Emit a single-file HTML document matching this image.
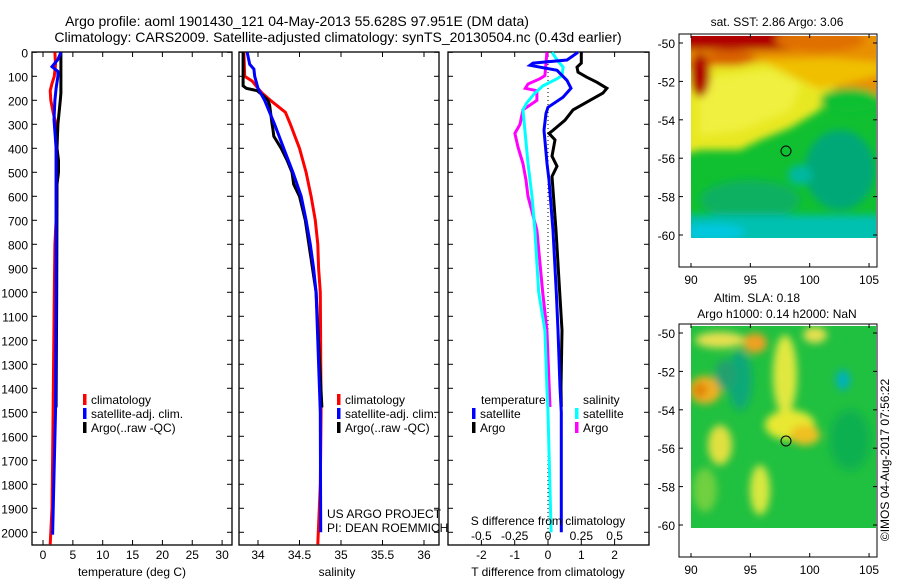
<!DOCTYPE html>
<html><head><meta charset="utf-8">
<style>
html,body{margin:0;padding:0;background:#fff;}
svg{display:block;font-family:"Liberation Sans",sans-serif;}
text{font-size:12px;fill:#000;}
</style></head>
<body>
<svg id="chart" width="900" height="580" viewBox="0 0 900 580" xmlns="http://www.w3.org/2000/svg">
<defs>
<filter id="bl" x="-20%" y="-20%" width="140%" height="140%"><feGaussianBlur stdDeviation="4"/></filter>
<clipPath id="c1"><rect x="691" y="36" width="185" height="202"/></clipPath>
<clipPath id="c2"><rect x="691" y="326" width="185" height="202"/></clipPath>
</defs>
<text x="297" y="26" text-anchor="middle" style="font-size:14px">Argo profile: aoml 1901430_121 04-May-2013 55.628S 97.951E (DM data)</text>
<text x="338" y="42" text-anchor="middle" style="font-size:14px">Climatology: CARS2009. Satellite-adjusted climatology: synTS_20130504.nc (0.43d earlier)</text>
<g id="plots"></g>
<!-- SST map -->
<g>
<text x="777" y="26" text-anchor="middle">sat. SST: 2.86 Argo: 3.06</text>
<rect x="679" y="34" width="198" height="233" fill="none" stroke="#000"/>
<g clip-path="url(#c1)">
<rect x="691" y="36" width="185" height="202" fill="#10c030"/>
<g filter="url(#bl)">
<rect x="680" y="20" width="210" height="75" fill="#e89000"/>
<path d="M680,70 L760,62 L810,68 L835,88 L820,110 L790,128 L760,140 L740,150 L700,150 L680,155 Z" fill="#e8e820"/>
<path d="M700,80 L770,70 L800,85 L790,110 L740,130 L700,135 Z" fill="#f0f040"/>
<path d="M760,60 L830,58 L880,62 L880,75 L820,90 Z" fill="#f0c000"/>
<rect x="680" y="20" width="120" height="30" fill="#b00000"/>
<ellipse cx="700" cy="75" rx="10" ry="22" fill="#b00000"/>
<ellipse cx="730" cy="58" rx="25" ry="8" fill="#d86000"/>
<ellipse cx="820" cy="40" rx="45" ry="12" fill="#e07000"/>
<ellipse cx="840" cy="170" rx="35" ry="40" fill="#00a878"/>
<ellipse cx="850" cy="100" rx="30" ry="12" fill="#10c030"/>
<ellipse cx="750" cy="200" rx="50" ry="20" fill="#10b060"/>
<rect x="680" y="215" width="210" height="30" fill="#00c0b0"/>
<ellipse cx="715" cy="232" rx="30" ry="8" fill="#00c8e0"/>
<ellipse cx="800" cy="175" rx="12" ry="10" fill="#00b8a0"/>
</g>
</g>
<circle cx="786" cy="151" r="5" fill="none" stroke="#000"/>
</g>
<!-- SLA map -->
<g>
<text x="757" y="302" text-anchor="middle">Altim. SLA: 0.18</text>
<text x="777" y="318" text-anchor="middle">Argo h1000: 0.14 h2000: NaN</text>
<rect x="679" y="324" width="198" height="233" fill="none" stroke="#000"/>
<g clip-path="url(#c2)">
<rect x="691" y="326" width="185" height="202" fill="#20c040"/>
<g filter="url(#bl)">
<ellipse cx="785" cy="375" rx="12" ry="40" fill="#e0e840"/>
<ellipse cx="790" cy="425" rx="25" ry="15" fill="#e8e830"/>
<ellipse cx="805" cy="435" rx="15" ry="10" fill="#f0c020"/>
<ellipse cx="755" cy="343" rx="12" ry="10" fill="#f0a020"/>
<ellipse cx="705" cy="390" rx="16" ry="14" fill="#f0b020"/>
<ellipse cx="700" cy="390" rx="7" ry="7" fill="#e08000"/>
<ellipse cx="720" cy="445" rx="12" ry="20" fill="#e0e040"/>
<ellipse cx="760" cy="490" rx="10" ry="25" fill="#d8e840"/>
<ellipse cx="720" cy="340" rx="25" ry="8" fill="#e8e050"/>
<ellipse cx="815" cy="335" rx="12" ry="8" fill="#e8e050"/>
<ellipse cx="740" cy="380" rx="12" ry="30" fill="#10a878"/>
<ellipse cx="843" cy="380" rx="7" ry="10" fill="#00b0c0"/>
<ellipse cx="850" cy="440" rx="20" ry="30" fill="#10b050"/>
<ellipse cx="705" cy="490" rx="12" ry="22" fill="#70d040"/>
<ellipse cx="725" cy="375" rx="10" ry="15" fill="#20a070"/>
</g>
</g>
<circle cx="786" cy="441" r="5" fill="none" stroke="#000"/>
</g>
<g id="maps"></g>
<text transform="translate(889,460) rotate(-90)" text-anchor="middle">©IMOS 04-Aug-2017 07:56:22</text>
</svg>
<script>
const NS='http://www.w3.org/2000/svg';
const depthTicks=[0,100,200,300,400,500,600,700,800,900,1000,1100,1200,1300,1400,1500,1600,1700,1800,1900,2000];
// Temperature panel data
const tClimDepth=[0,50,100,130,160,200,250,300,700,800,1000,1500,1700,1900,2050];
const tClimVal=[2.0,2.1,1.9,1.5,1.2,1.3,1.7,2.2,2.2,2.0,1.9,1.7,1.6,1.5,1.2];
const tSatDepth=[0,30,60,80,100,150,200,280,400,1000,1500,2010];
const tSatVal=[3.0,2.5,1.5,2.5,2.5,2.2,2.0,1.85,2.2,2.2,2.1,1.6];
const tArgoDepth=[0,170,200,250,300,400,450,500,550,600,1000,1480];
const tArgoVal=[3.0,3.0,2.9,2.7,2.5,2.35,2.6,2.6,2.35,2.35,2.3,2.2];
const tTicks=[0,5,10,15,20,25,30];
// Salinity panel data
const sClimDepth=[0,100,120,150,170,200,250,300,400,500,600,700,800,900,1000,1500,1800,2050];
const sClimVal=[33.83,33.84,33.93,34.0,34.05,34.15,34.33,34.39,34.5,34.58,34.64,34.69,34.72,34.73,34.75,34.76,34.75,34.72];
const sSatDepth=[0,50,70,100,150,200,300,400,500,600,700,800,900,1000,1500,2000];
const sSatVal=[33.87,33.9,33.95,33.96,34.0,34.08,34.2,34.31,34.42,34.52,34.58,34.63,34.67,34.7,34.75,34.755];
const sArgoDepth=[0,140,150,160,180,200,220,300,320,350,400,450,500,550,600,700,1000,1480];
const sArgoVal=[33.82,33.82,33.86,33.99,34.06,34.12,34.14,34.17,34.18,34.19,34.28,34.35,34.41,34.43,34.5,34.57,34.7,34.77];
const sTicks=[34,34.5,35,35.5,36];
// Difference panel data
const dTSatDepth=[0,32,45,54,75,117,150,187,229,254,325,463,533,742,1000,1158,1395,1500,2000];
const dTSatVal=[0.9,0.57,-0.45,-0.54,0.27,0.57,0.69,0.45,0,-0.06,-0.12,-0.03,0.03,0.15,0.25,0.3,0.36,0.4,0.4];
const dTArgoDepth=[0,45,62,83,104,125,150,170,200,240,283,325,338,365,433,475,517,742,1000,1158,1395,1478];
const dTArgoVal=[1.0,1.0,0.87,0.9,1.17,1.47,1.77,1.65,1.26,0.75,0.51,0.15,0.03,0.21,0.12,0.27,0.12,0.24,0.35,0.42,0.39,0.4];
const dSSatDepth=[0,32,62,97,110,140,170,210,240,325,463,600,742,1000,1158,1395,1500,2000];
const dSSatVal=[0.03,0.068,0.113,0.105,0.068,-0.038,-0.098,-0.158,-0.188,-0.173,-0.15,-0.12,-0.098,-0.07,-0.023,-0.008,0,0.023];
const dSArgoDepth=[0,45,97,110,132,150,160,200,240,300,338,395,463,533,600,742,1000,1158,1478];
const dSArgoVal=[-0.008,-0.015,-0.023,-0.06,-0.15,-0.17,-0.083,-0.083,-0.188,-0.21,-0.248,-0.225,-0.188,-0.165,-0.15,-0.083,-0.04,-0.008,0.015];
const dTTicks=[-2,-1,0,1,2];
const dSTicks=[-0.5,-0.25,0,0.25,0.5];
const dSTickLabels=['-0.5','-0.25','0','0.25','0.5'];
const lonTicks=[90,95,100,105];
const latTicks=[-50,-52,-54,-56,-58,-60];

const Y0=52.3, YK=0.24;
const yD=d=>Y0+YK*d;
const xT=v=>43+5.97*v;
const xS=v=>258+83*(v-34);
const xDT=v=>548+33.3*v;
const xDS=v=>548+133.3*v;
const xLon=v=>691+11.87*(v-90);
const yLat1=v=>43+19.2*(-50-v);
const yLat2=v=>333+19.2*(-50-v);

const plots=document.getElementById('plots');
function mk(tag,attrs,parent){const e=document.createElementNS(NS,tag);for(const k in attrs)e.setAttribute(k,attrs[k]);(parent||plots).appendChild(e);return e;}
function txt(s,x,y,anchor,parent){const e=mk('text',{x:x,y:y,'text-anchor':anchor||'start'},parent);e.textContent=s;return e;}
function stepLine(depths,vals,xf,color,name,w){
  let d='';
  for(let i=0;i<depths.length;i++){
    const x=xf(vals[i]).toFixed(1), y=yD(depths[i]).toFixed(1);
    d+=(i?'L':'M')+x+','+y;
  }
  const p=mk('path',{d:d,fill:'none',stroke:color,'stroke-width':w||3,'stroke-linejoin':'miter'});
  
  
}
function panel(x0,x1,name){
  const g=mk('rect',{x:x0,y:52,width:x1-x0,height:493,fill:'none',stroke:'#000','stroke-width':1.3});
  
  
  depthTicks.forEach(d=>{
    mk('line',{x1:x0,x2:x0+5,y1:yD(d),y2:yD(d),stroke:'#000'});
    mk('line',{x1:x1-5,x2:x1,y1:yD(d),y2:yD(d),stroke:'#000'});
  });
}
// panel 1
panel(32,232,'temperature-panel');
depthTicks.forEach(d=>{const t=txt(String(d),28,yD(d)+5,'end');
  
  });
tTicks.forEach(v=>{mk('line',{x1:xT(v),x2:xT(v),y1:545,y2:540,stroke:'#000'});mk('line',{x1:xT(v),x2:xT(v),y1:52,y2:57,stroke:'#000'});
  const t=txt(String(v),xT(v),559,'middle');
  
  });
const tt=txt('temperature (deg C)',132,576,'middle');


stepLine(tClimDepth,tClimVal,xT,'#ff0000','temp-climatology-line');
stepLine(tArgoDepth,tArgoVal,xT,'#000000','temp-argo-line');
stepLine(tSatDepth,tSatVal,xT,'#0000ff','temp-satellite-line');
// panel 2
panel(239,439,'salinity-panel');
sTicks.forEach(v=>{mk('line',{x1:xS(v),x2:xS(v),y1:545,y2:540,stroke:'#000'});mk('line',{x1:xS(v),x2:xS(v),y1:52,y2:57,stroke:'#000'});
  const t=txt(String(v),xS(v),559,'middle');
  
  });
const st=txt('salinity',337,576,'middle');


stepLine(sClimDepth,sClimVal,xS,'#ff0000','sal-climatology-line');
stepLine(sArgoDepth,sArgoVal,xS,'#000000','sal-argo-line');
stepLine(sSatDepth,sSatVal,xS,'#0000ff','sal-satellite-line');
// panel 3
panel(448,649,'difference-panel');
dTTicks.forEach(v=>{mk('line',{x1:xDT(v),x2:xDT(v),y1:545,y2:540,stroke:'#000'});mk('line',{x1:xDT(v),x2:xDT(v),y1:52,y2:57,stroke:'#000'});
  const t=txt(String(v),xDT(v),559,'middle');
  
  });
dSTicks.forEach((v,i)=>{const t=txt(dSTickLabels[i],xDS(v),540,'middle');
  
  });
const zl=mk('line',{x1:548,x2:548,y1:52,y2:545,stroke:'#000','stroke-dasharray':'1,3'});


stepLine(dSArgoDepth,dSArgoVal,xDS,'#ff00ff','sdiff-argo-line');
stepLine(dSSatDepth,dSSatVal,xDS,'#00ffff','sdiff-satellite-line');
stepLine(dTArgoDepth,dTArgoVal,xDT,'#000000','tdiff-argo-line');
stepLine(dTSatDepth,dTSatVal,xDT,'#0000ff','tdiff-satellite-line');
const dt=txt('T difference from climatology',548,576,'middle');


const ds=txt('S difference from climatology',548,525,'middle');


// legends
function leg(x,y,color,label,name){
  const b=mk('rect',{x:x,y:y-10,width:3.5,height:11,fill:color});
  
  
  const t=txt(label,x+8,y);
  
  
}
leg(83,404,'#ff0000','climatology','legend-temp-climatology');
leg(83,418,'#0000ff','satellite-adj. clim.','legend-temp-satellite');
leg(83,432,'#000000','Argo(..raw -QC)','legend-temp-argo');
leg(337,404,'#ff0000','climatology','legend-sal-climatology');
leg(337,418,'#0000ff','satellite-adj. clim.','legend-sal-satellite');
leg(337,432,'#000000','Argo(..raw -QC)','legend-sal-argo');
const lt=txt('temperature',481,404);
const ls=txt('salinity',583,404);
leg(472,418,'#0000ff','satellite','legend-tdiff-satellite');
leg(472,432,'#000000','Argo','legend-tdiff-argo');
leg(575,418,'#00ffff','satellite','legend-sdiff-satellite');
leg(575,432,'#ff00ff','Argo','legend-sdiff-argo');
const u1=txt('US ARGO PROJECT',327,518);
const u2=txt('PI: DEAN ROEMMICH',327,532);
// map axes
const maps=document.getElementById('maps');
[[yLat1,34,267,'sst'],[yLat2,324,557,'sla']].forEach(([yf,top,bot,nm])=>{
  latTicks.forEach(v=>{mk('line',{x1:679,x2:683,y1:yf(v),y2:yf(v),stroke:'#000'},maps);mk('line',{x1:873,x2:877,y1:yf(v),y2:yf(v),stroke:'#000'},maps);
    const t=txt(String(v),675,yf(v)+5,'end',maps);
    
    });
  lonTicks.forEach(v=>{mk('line',{x1:xLon(v),x2:xLon(v),y1:bot,y2:bot-4,stroke:'#000'},maps);mk('line',{x1:xLon(v),x2:xLon(v),y1:top,y2:top+4,stroke:'#000'},maps);
    const t=txt(String(v),xLon(v),bot+17,'middle',maps);
    
    });
});
</script>
</body></html>
